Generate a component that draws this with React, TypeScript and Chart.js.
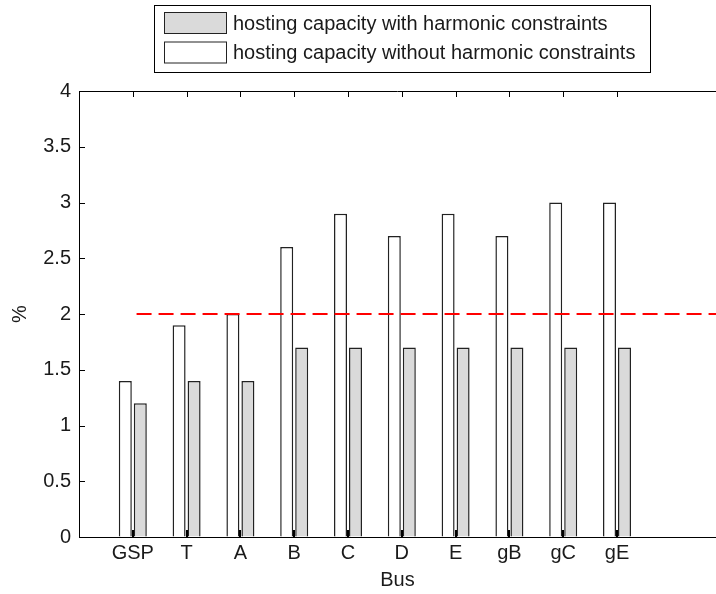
import React, { useEffect, useRef } from 'react';
import { Chart, registerables } from 'chart.js';

Chart.register(...registerables);

// ---- data ----
const buses = ['GSP', 'T', 'A', 'B', 'C', 'D', 'E', 'gB', 'gC', 'gE'];
const withoutHarmonic = [1.4, 1.9, 2.0, 2.6, 2.9, 2.7, 2.9, 2.7, 3.0, 3.0];
const withHarmonic = [1.2, 1.4, 1.4, 1.7, 1.7, 1.7, 1.7, 1.7, 1.7, 1.7];
const limitValue = 2;
const limitXRange = [1.07, 11.84];
const labelWith = 'hosting capacity with harmonic constraints';
const labelWithout = 'hosting capacity without harmonic constraints';
const xMin = 0;
const xMax = 11.84;
const yMin = 0;
const yMax = 4;
const yStep = 0.5;

const FONT = '"Liberation Sans", Arial, Helvetica, sans-serif';
const TEXT = '#1a1a1a';

const inwardTicks = {
  id: 'inwardTicks',
  afterDatasetsDraw(chart: any) {
    const { ctx, chartArea: a, scales } = chart;
    const xs = scales.x;
    const ys = scales.y;
    ctx.save();
    ctx.strokeStyle = '#000';
    ctx.lineWidth = 1;
    ctx.beginPath();
    ctx.moveTo(a.left, Math.round(a.top) + 0.5);
    ctx.lineTo(a.right, Math.round(a.top) + 0.5);
    ys.ticks.forEach((t: any) => {
      const py = Math.round(ys.getPixelForValue(t.value)) + 0.5;
      ctx.moveTo(a.left, py);
      ctx.lineTo(a.left + 6, py);
    });
    xs.ticks.forEach((t: any) => {
      const px = Math.round(xs.getPixelForValue(t.value)) + 0.5;
      ctx.moveTo(px, a.top);
      ctx.lineTo(px, a.top + 6);
    });
    ctx.stroke();
    ctx.lineWidth = 2;
    ctx.beginPath();
    xs.ticks.forEach((t: any) => {
      const px = Math.round(xs.getPixelForValue(t.value));
      ctx.moveTo(px, a.bottom);
      ctx.lineTo(px, a.bottom - 7);
    });
    ctx.stroke();
    ctx.restore();
  },
};

const boxLegend = {
  id: 'boxLegend',
  afterDraw(chart: any) {
    const { ctx } = chart;
    const ds = chart.data.datasets;
    const items = [ds[1], ds[0]];
    const boxL = 154, boxT = 5, boxW = 496, boxH = 67;
    ctx.save();
    ctx.fillStyle = '#fff';
    ctx.fillRect(boxL, boxT, boxW, boxH);
    ctx.strokeStyle = '#000';
    ctx.lineWidth = 1;
    ctx.strokeRect(boxL + 0.5, boxT + 0.5, boxW, boxH);
    ctx.font = `20px ${FONT}`;
    ctx.textBaseline = 'middle';
    ctx.textAlign = 'left';
    const rows = [23, 52.5];
    items.forEach((d: any, i: number) => {
      const cy = rows[i];
      ctx.fillStyle = d.backgroundColor;
      ctx.fillRect(164.5, cy - 10.5, 62, 21);
      ctx.strokeStyle = '#222';
      ctx.strokeRect(164.5, cy - 10.5, 62, 21);
      ctx.fillStyle = TEXT;
      ctx.fillText(d.label, 233, cy + 1);
    });
    ctx.restore();
  },
};

export default function App() {
  const ref = useRef<HTMLCanvasElement | null>(null);
  useEffect(() => {
    if (!ref.current) return;
    Chart.defaults.font.family = FONT;
    Chart.defaults.font.size = 20;
    Chart.defaults.color = TEXT;
    const chart = new Chart(ref.current, {
      type: 'bar',
      data: {
        datasets: [
          {
            type: 'bar',
            label: labelWithout,
            data: buses.map((_, i) => ({ x: i + 1, y: withoutHarmonic[i] })),
            backgroundColor: '#ffffff',
            borderColor: '#222222',
            borderWidth: 1.5,
            categoryPercentage: 0.5576,
            barPercentage: 0.8667,
            order: 1,
          } as any,
          {
            type: 'bar',
            label: labelWith,
            data: buses.map((_, i) => ({ x: i + 1, y: withHarmonic[i] })),
            backgroundColor: '#dadada',
            borderColor: '#222222',
            borderWidth: 1.5,
            categoryPercentage: 0.5576,
            barPercentage: 0.8667,
            order: 1,
          } as any,
          {
            type: 'line',
            label: 'limit',
            data: limitXRange.map((x) => ({ x, y: limitValue })),
            borderColor: '#ff0000',
            borderWidth: 2,
            borderDash: [15, 7],
            pointRadius: 0,
            fill: false,
            order: 0,
          } as any,
        ],
      },
      options: {
        responsive: false,
        animation: false,
        devicePixelRatio: 1,
        layout: { padding: { top: 91, left: 0, right: 0, bottom: 0 } },
        plugins: { legend: { display: false }, tooltip: { enabled: false } },
        scales: {
          x: {
            type: 'linear',
            min: xMin,
            max: xMax,
            offset: false,
            grid: { display: true, drawOnChartArea: false, drawTicks: false },
            border: { display: true, color: '#000', width: 1 },
            ticks: {
              autoSkip: false,
              maxRotation: 0,
              padding: 4,
              color: TEXT,
              callback: (v: any) => buses[Number(v) - 1] ?? '',
            },
            afterBuildTicks: (scale: any) => {
              scale.ticks = buses.map((_, i) => ({ value: i + 1 }));
            },
            afterFit: (scale: any) => {
              scale.height = 57;
            },
            title: { display: true, text: 'Bus', color: TEXT, padding: { top: 0, bottom: 2 } },
          },
          y: {
            type: 'linear',
            min: yMin,
            max: yMax,
            grid: { display: true, drawOnChartArea: false, drawTicks: false },
            border: { display: true, color: '#000', width: 1 },
            ticks: {
              stepSize: yStep,
              padding: 8,
              color: TEXT,
              callback: (v: any) => String(Math.round(Number(v) * 10) / 10),
            },
            afterFit: (scale: any) => {
              scale.width = 79;
            },
            title: { display: true, text: '%', color: TEXT, padding: { top: 8, bottom: 0 } },
          },
        },
      } as any,
      plugins: [inwardTicks, boxLegend],
    });
    return () => chart.destroy();
  }, []);
  return (
    <div style={{ position: 'fixed', left: 0, top: 0, width: 716, height: 594, background: '#fff' }}>
      <canvas ref={ref} width={716} height={594} style={{ display: 'block' }} />
    </div>
  );
}
